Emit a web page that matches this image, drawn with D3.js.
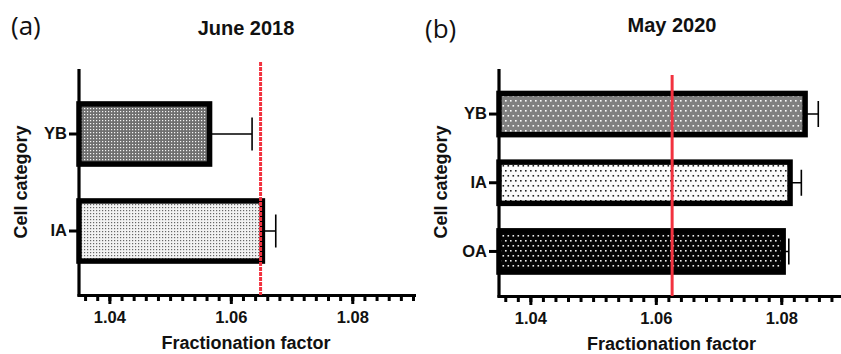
<!DOCTYPE html>
<html>
<head>
<meta charset="utf-8">
<script src="https://cdn.jsdelivr.net/npm/d3@7"></script>
<style>
  body { margin: 0; background: #fff; }
  svg { display: block; }
  text { font-family: "Liberation Sans", Arial, sans-serif; fill: #111; }
</style>
</head>
<body>
<script>
// values
const xDomain = [1.035, 1.09];
const xMajorTicks = [1.04, 1.06, 1.08];

const categoriesA = ["YB", "IA"];
const valuesA = [1.0565, 1.0652];
const errorsA = [0.0070, 0.0022];
const referenceA = 1.0649;

const categoriesB = ["YB", "IA", "OA"];
const valuesB = [1.0838, 1.0814, 1.0803];
const errorsB = [0.0021, 0.0018, 0.0009];
const referenceB = 1.0626;

const width = 841, height = 354;

const svg = d3.select("body").append("svg")
    .attr("width", width)
    .attr("height", height);

// dotted fills
const defs = svg.append("defs");
const makePattern = (id, size, bg, dot, dotSize, stagger) => {
  const p = defs.append("pattern")
      .attr("id", id)
      .attr("patternUnits", "userSpaceOnUse")
      .attr("width", size)
      .attr("height", stagger ? size * 2 : size);
  p.append("rect").attr("width", size).attr("height", stagger ? size * 2 : size).attr("fill", bg);
  p.append("rect").attr("x", 0).attr("y", 0).attr("width", dotSize).attr("height", dotSize).attr("fill", dot);
  if (stagger) {
    p.append("rect").attr("x", size / 2).attr("y", size).attr("width", dotSize).attr("height", dotSize).attr("fill", dot);
  }
};
makePattern("aYB", 3, "#6f6f6f", "#f4f4f4", 1.2, false);
makePattern("aIA", 3, "#f2f2f2", "#666", 1.2, false);
makePattern("bYB", 5, "#808080", "#ffffff", 1.6, true);
makePattern("bIA", 5, "#fbfbfb", "#222", 1.6, true);
makePattern("bOA", 5, "#050505", "#f2f2f2", 1.6, true);

const drawPanel = (cfg) => {
  const g = svg.append("g");

  const x = d3.scaleLinear().domain(xDomain).range([cfg.left, cfg.right]);
  const y = d3.scaleBand()
      .domain(cfg.categories)
      .range(cfg.bandRange)
      .paddingInner(cfg.padInner)
      .paddingOuter(cfg.padOuter);

  // minor ticks every 0.002
  const minorTicks = d3.range(18, 46).map(i => i * 0.002 + 1.0)
      .filter(v => v >= xDomain[0] && v <= xDomain[1] + 1e-9);

  const xMinor = g.append("g")
      .attr("transform", `translate(0,${cfg.axisY})`)
      .call(d3.axisBottom(x).tickValues(minorTicks).tickSize(6).tickSizeOuter(0).tickFormat(""));
  xMinor.select(".domain").attr("stroke-width", 3.2).attr("d", `M${cfg.left - 1.5},0.5H${cfg.axisEnd}`);
  xMinor.selectAll(".tick line").attr("stroke-width", 3);

  const xMajor = g.append("g")
      .attr("transform", `translate(0,${cfg.axisY})`)
      .call(d3.axisBottom(x).tickValues(xMajorTicks).tickSize(9).tickPadding(7).tickFormat(d3.format(".2f")));
  xMajor.select(".domain").remove();
  xMajor.selectAll(".tick line").attr("stroke-width", 3);
  xMajor.selectAll(".tick text")
      .attr("font-size", 16.5)
      .attr("font-weight", "bold")
      .attr("font-family", "Liberation Sans, Arial, sans-serif");

  // y axis
  g.append("line")
      .attr("x1", cfg.left).attr("x2", cfg.left)
      .attr("y1", cfg.axisTop).attr("y2", cfg.axisY + 1.5)
      .attr("stroke", "#000").attr("stroke-width", 3.2);

  const yAxis = g.append("g")
      .attr("transform", `translate(${cfg.left},0)`)
      .call(d3.axisLeft(y).tickSize(10).tickPadding(2));
  yAxis.select(".domain").remove();
  yAxis.selectAll(".tick line").attr("stroke-width", 3);
  yAxis.selectAll(".tick text")
      .attr("font-size", 16.5)
      .attr("font-weight", "bold")
      .attr("font-family", "Liberation Sans, Arial, sans-serif");

  // bars
  const rows = cfg.categories.map((c, i) => ({cat: c, value: cfg.values[i], err: cfg.errors[i], fill: cfg.fills[i]}));

  const bar = g.append("g").selectAll("g")
      .data(rows)
      .join("g");

  bar.append("path")
      .attr("d", d => {
        const cy = y(d.cat) + y.bandwidth() / 2;
        const h = cfg.capHalf;
        return `M${x(d.value)},${cy}H${x(d.value + d.err)}M${x(d.value + d.err)},${cy - h}V${cy + h}`;
      })
      .attr("fill", "none")
      .attr("stroke", "#000")
      .attr("stroke-width", 1.6);

  bar.append("rect")
      .attr("x", cfg.left)
      .attr("y", d => y(d.cat))
      .attr("width", d => x(d.value) - cfg.left)
      .attr("height", y.bandwidth())
      .attr("fill", d => `url(#${d.fill})`)
      .attr("stroke", "#000")
      .attr("stroke-width", 5.5);

  // reference line
  g.append("line")
      .attr("x1", x(cfg.reference)).attr("x2", x(cfg.reference))
      .attr("y1", cfg.refTop).attr("y2", cfg.axisY)
      .attr("stroke", "#f2323f")
      .attr("stroke-width", 3)
      .attr("stroke-dasharray", cfg.refDash);

  // titles
  g.append("text")
      .attr("x", cfg.titleX).attr("y", cfg.titleY)
      .attr("text-anchor", "middle")
      .attr("font-size", 20)
      .attr("font-weight", "bold")
      .text(cfg.title);

  g.append("text")
      .attr("x", cfg.tagX).attr("y", cfg.tagY)
      .style("font-family", "'Open Sans', sans-serif")
      .attr("font-size", 26)
      .text(cfg.tag);

  g.append("text")
      .attr("x", (cfg.left + cfg.right) / 2).attr("y", cfg.xTitleY)
      .attr("text-anchor", "middle")
      .attr("font-size", 18)
      .attr("font-weight", "bold")
      .text("Fractionation factor");

  g.append("text")
      .attr("transform", `translate(${cfg.yTitleX},${cfg.yTitleY}) rotate(-90)`)
      .attr("text-anchor", "middle")
      .attr("font-size", 18)
      .attr("font-weight", "bold")
      .text("Cell category");
};

drawPanel({
  categories: categoriesA, values: valuesA, errors: errorsA, reference: referenceA,
  fills: ["aYB", "aIA"],
  left: 79, right: 413, axisEnd: 416, axisY: 295, axisTop: 69,
  bandRange: [85.5, 279.5], padInner: 0.38, padOuter: 0.19, capHalf: 16.5,
  refTop: 62, refDash: "4,1",
  title: "June 2018", titleX: 246, titleY: 35,
  tag: "(a)", tagX: 11, tagY: 35,
  xTitleY: 349, yTitleX: 27, yTitleY: 182
});

drawPanel({
  categories: categoriesB, values: valuesB, errors: errorsB, reference: referenceB,
  fills: ["bYB", "bIA", "bOA"],
  left: 499, right: 844, axisEnd: 844, axisY: 296, axisTop: 69,
  bandRange: [79.7, 285.8], padInner: 0.40, padOuter: 0.2, capHalf: 13,
  refTop: 75, refDash: null,
  title: "May 2020", titleX: 672, titleY: 32,
  tag: "(b)", tagX: 425, tagY: 38,
  xTitleY: 350, yTitleX: 447, yTitleY: 182
});
</script>
</body>
</html>
